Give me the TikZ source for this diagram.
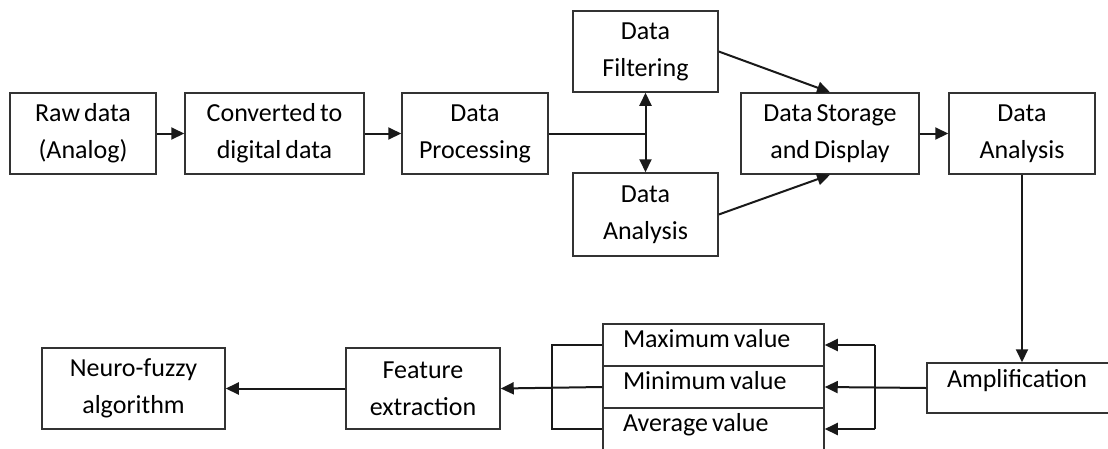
\documentclass[tikz,border=0pt]{standalone}
\usepackage{fontspec}
\setmainfont{Carlito}[WordSpace=0.7]
\usetikzlibrary{arrows.meta,calc}

\tikzset{
  box/.style={draw=black!80, line width=1.5pt, fill=white, align=center,
    inner sep=0pt, font=\fontsize{26}{37}\selectfont},
  cell/.style={box, align=left, inner xsep=20pt, inner ysep=0pt,
    text height=18pt, text depth=14pt,
    execute at begin node={\spaceskip=0pt\xspaceskip=0pt\relax}},
  link/.style={draw=black!90, line width=2pt},
  arr/.style={link, -{Triangle[length=13pt,width=12pt]}},
}

\begin{document}
\begin{tikzpicture}[x=1pt,y=-1pt]
  \clip (0,0) rectangle (1108,448);
  \fill[white] (0,0) rectangle (1108,448);

  % upper chain
  \node[box, minimum width=146pt, minimum height=81pt] (raw)  at (83,133.5)   {Raw data\\(Analog)};
  \node[box, minimum width=179pt, minimum height=81pt] (conv) at (274.5,133.5) {Converted to\\digital data};
  \node[box, minimum width=146pt, minimum height=81pt] (proc) at (475,133.5)  {Data\\Processing};
  \node[box, minimum width=145pt, minimum height=81pt] (filt) at (645.5,51.5) {Data\\Filtering};
  \node[box, minimum width=145pt, minimum height=83pt] (anl1) at (645.5,214.5) {Data\\Analysis};
  \node[box, minimum width=178pt, minimum height=81pt] (stor) at (830,133.5)  {Data Storage\\and Display};
  \node[box, minimum width=146pt, minimum height=81pt] (anl2) at (1022,133.5) {Data\\Analysis};

  % lower chain
  \node[cell, text width=150pt, minimum height=50pt, text depth=20pt] (amp) at (1022,388) {Amplification};
  \node[cell, text width=181pt, minimum height=42pt] (maxv) at (713.5,345) {Maximum value};
  \node[cell, text width=181pt, minimum height=42pt] (minv) at (713.5,387) {Minimum value};
  \node[cell, text width=181pt, minimum height=42pt] (avgv) at (713.5,429) {Average value};
  \node[box, minimum width=154pt, minimum height=81pt] (feat)  at (423,388.5) {Feature\\extraction};
  \node[box, minimum width=183pt, minimum height=81pt] (neuro) at (133.5,388.5) {Neuro-fuzzy\\algorithm};

  % helper points
  \coordinate (split) at (645.5,133.5);
  \coordinate (rbx) at (875,387);
  \coordinate (lbx) at (552,387);

  % upper connectors
  \draw[arr] (raw.east) -- (conv.west);
  \draw[arr] (conv.east) -- (proc.west);
  \draw[link] (proc.east) -- (split);
  \draw[arr] (split) -- (filt.south);
  \draw[arr] (split) -- (anl1.north);
  \draw[arr] (filt.east) -- (stor.north);
  \draw[arr] (anl1.east) -- (stor.south);
  \draw[arr] (stor.east) -- (anl2.west);
  \draw[arr] (anl2.south) -- (amp.north);

  % fan-in to the statistics
  \draw[arr] (amp.west) -- (minv.east);
  \draw[link] (rbx |- maxv.east) -- (rbx |- avgv.east);
  \draw[arr] (rbx |- maxv.east) -- (maxv.east);
  \draw[arr] (rbx |- avgv.east) -- (avgv.east);

  % fan-out to feature extraction
  \draw[link] (maxv.west) -- (lbx |- maxv.west) -- (lbx |- avgv.west) -- (avgv.west);
  \draw[arr] (minv.west) -- (feat.east);
  \draw[arr] (feat.west) -- (neuro.east);
\end{tikzpicture}
\end{document}
